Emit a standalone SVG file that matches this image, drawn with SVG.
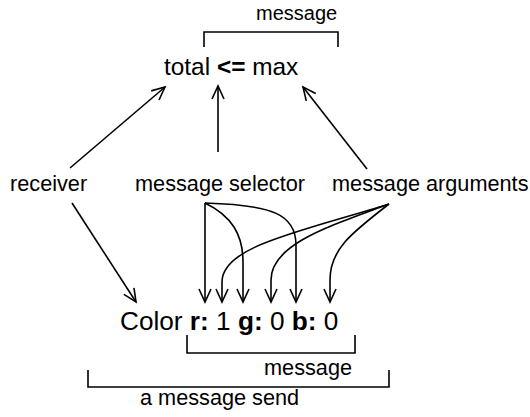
<svg xmlns="http://www.w3.org/2000/svg" width="530" height="417" viewBox="0 0 530 417">
<style>
text{font-family:"Liberation Sans",Arial,sans-serif;fill:#000}
.lbl{font-size:21.7px}
.code{font-size:24.4px}
.code2{font-size:26.2px}
.b{font-weight:bold}
.ln{fill:none;stroke:#000;stroke-width:1.6}
</style>
<defs>
<marker id="ah" markerWidth="30" markerHeight="30" refX="0" refY="0" viewBox="-15 -15 30 30" orient="auto" markerUnits="userSpaceOnUse">
<path d="M-13,-6 L0,0 L-13,6" fill="none" stroke="#000" stroke-width="1.6"/>
</marker>
</defs>
<rect width="530" height="417" fill="#fff"/>
<g id="top-expr">
<text class="code" x="164" y="75">total <tspan class="b">&lt;=</tspan> max</text>
</g>
<g id="top-message">
<text class="lbl" x="256" y="20" style="font-size:20px">message</text>
<path class="ln" d="M204,47 V32 H338 V47"/>
</g>
<g id="receiver"><text class="lbl" x="10" y="191">receiver</text></g>
<g id="selector"><text class="lbl" x="135" y="191">message selector</text></g>
<g id="arguments"><text class="lbl" x="332" y="191">message arguments</text></g>
<g id="bottom-expr">
<text class="code2" x="120" y="330">Color <tspan class="b">r:</tspan> 1 <tspan class="b">g:</tspan> 0 <tspan class="b">b:</tspan> 0</text>
</g>
<g id="bottom-message">
<path class="ln" d="M187,335 V353 H355 V335"/>
<text class="lbl" x="264" y="375">message</text>
</g>
<g id="message-send">
<path class="ln" d="M88,370 V387 H389 V370"/>
<text class="lbl" x="140" y="405">a message send</text>
</g>
<g id="connectors">
<path class="ln" marker-end="url(#ah)" d="M70,168 L165,87"/>
<path class="ln" marker-end="url(#ah)" d="M218,152 L218,86"/>
<path class="ln" marker-end="url(#ah)" d="M367,169 L303,87"/>
<path class="ln" marker-end="url(#ah)" d="M72,203 L136,302"/>
<path class="ln" marker-end="url(#ah)" d="M205,203 L205,302"/>
<path class="ln" marker-end="url(#ah)" d="M205,203 C232,216 243,235 243,262 L243,302"/>
<path class="ln" marker-end="url(#ah)" d="M205,203 C272,205 296,214 296,245 L296,302"/>
<path class="ln" marker-end="url(#ah)" d="M389,204 C300,232 222,246 222,282 L222,302"/>
<path class="ln" marker-end="url(#ah)" d="M389,204 C330,226 271,244 271,280 L271,302"/>
<path class="ln" marker-end="url(#ah)" d="M389,204 C350,234 330,250 330,280 L330,302"/>
</g>
</svg>
